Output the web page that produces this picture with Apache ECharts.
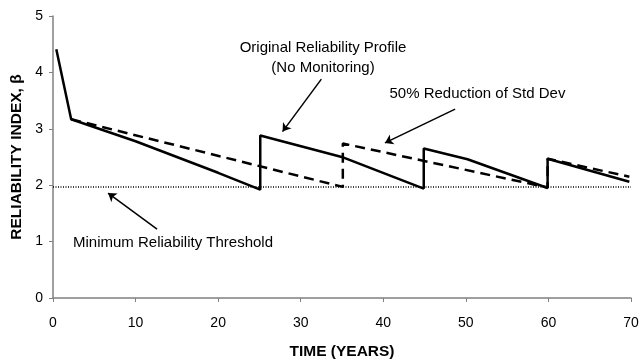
<!DOCTYPE html>
<html><head><meta charset="utf-8">
<script src="https://cdn.jsdelivr.net/npm/echarts@6/dist/echarts.min.js"></script>
<style>html,body{margin:0;padding:0;background:#fff}#c{width:640px;height:359px}</style>
</head><body><div id="c"></div>
<script>
// Data
const xTicks = [0, 10, 20, 30, 40, 50, 60, 70];
const yTicks = [0, 1, 2, 3, 4, 5];
const originalProfile = [[0.4,4.41],[2.2,3.17],[10,2.78],[20,2.22],[25.1,1.92],[25.1,2.88],[35.2,2.49],[44.9,1.94],[44.9,2.65],[50.2,2.46],[59.9,1.95],[59.9,2.47],[69.8,2.06]];
const reducedStdDev = [[2.2,3.17],[35.1,1.97],[35.1,2.74],[59.9,1.96],[59.9,2.47],[69.8,2.15]];
const thresholdValue = 1.97;
const threshold = [[0, thresholdValue],[70, thresholdValue]];
const arrowOriginal = [[32.5,3.88],[27.8,2.95]];
const arrowReduced = [[48.7,3.35],[40.2,2.75]];
const arrowThreshold = [[12.6,1.22],[6.67,1.86]];
const labelOriginal = {text:'Original Reliability Profile\n(No Monitoring)', at:[32.7,4.25]};
const labelReduced = {text:'50% Reduction of Std Dev', at:[51.4,3.62]};
const labelThreshold = {text:'Minimum Reliability Threshold', at:[2.42,0.98]};

const FONT = 'Liberation Sans, Arial, sans-serif';
const chart = echarts.init(document.getElementById('c'));
function arrow(pts){
  return [{coord:pts[0], symbol:'none'},{coord:pts[1], symbol:'arrow'}];
}
function label(l, align){
  return {coord:l.at, symbol:'circle', symbolSize:0,
    label:{show:true, position:'inside', formatter:l.text, align:align||'center', verticalAlign:'middle',
      color:'#000', fontFamily:FONT, fontSize:15, lineHeight:20}};
}
chart.setOption({
  animation:false,
  grid:{left:53, right:9, top:16, bottom:61, containLabel:false, outerBoundsMode:'none'},
  xAxis:{type:'value', min:0, max:70, interval:10,
    name:'TIME (YEARS)', nameLocation:'middle', nameGap:46,
    nameTextStyle:{fontFamily:FONT, fontWeight:'bold', fontSize:15.5, color:'#000'},
    axisLine:{show:true, lineStyle:{color:'#808080', width:1.5}},
    axisTick:{show:true, length:4, lineStyle:{color:'#808080'}},
    axisLabel:{color:'#000', fontFamily:FONT, fontSize:14, margin:18},
    splitLine:{show:false}},
  yAxis:{type:'value', min:0, max:5, interval:1,
    name:'RELIABILITY INDEX, β', nameLocation:'middle', nameGap:27, nameRotate:90,
    nameTextStyle:{fontFamily:FONT, fontWeight:'bold', fontSize:15.5, color:'#000'},
    axisLine:{show:true, lineStyle:{color:'#808080', width:1.5}},
    axisTick:{show:true, length:4, lineStyle:{color:'#808080'}},
    axisLabel:{color:'#000', fontFamily:FONT, fontSize:14, margin:10},
    splitLine:{show:false}},
  series:[
    {type:'line', data:threshold, symbol:'none', lineStyle:{color:'#000', width:1.5, type:[1,1.5]}, z:1},
    {type:'line', data:reducedStdDev, symbol:'none', lineStyle:{color:'#000', width:2.5, type:[10,6]}, z:2},
    {type:'line', data:originalProfile, symbol:'none', lineStyle:{color:'#000', width:2.5}, z:3,
      markLine:{silent:true, symbolSize:8, lineStyle:{color:'#000', width:1.5, type:'solid'}, label:{show:false},
        data:[arrow(arrowOriginal), arrow(arrowReduced), arrow(arrowThreshold)]},
      markPoint:{silent:true, data:[label(labelOriginal), label(labelReduced), label(labelThreshold,'left')]}}
  ]
});
</script></body></html>
